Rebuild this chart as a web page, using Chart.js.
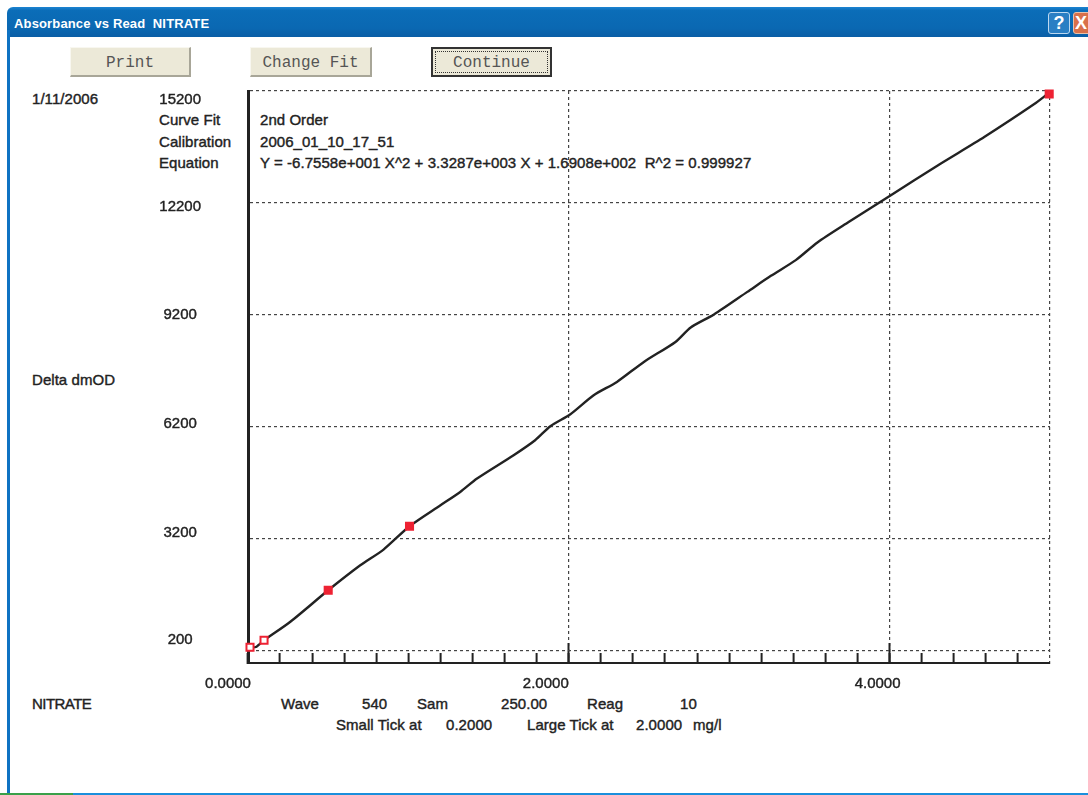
<!DOCTYPE html>
<html>
<head>
<meta charset="utf-8">
<title>Absorbance vs Read NITRATE</title>
<script src="https://cdn.jsdelivr.net/npm/chart.js@4"></script>
<style>
html,body{margin:0;padding:0;background:#fff;overflow:hidden}
#win{position:relative;width:1088px;height:795px;overflow:hidden;background:#fff}
#bar{position:absolute;left:7px;top:7px;width:1090px;height:30px;border-radius:6px 0 0 0;
 background:linear-gradient(#1b84d2 0,#0b6db8 12%,#0a68b2 70%,#0a5ea6 100%)}
#lb{position:absolute;left:7px;top:30px;width:3px;height:765px;background:#0e72c2}
#bb{position:absolute;left:7px;top:793px;width:1081px;height:2px;background:#1b8fdc}
#gb{position:absolute;left:0;top:793px;width:73px;height:2px;background:#3aa04a}
#ttl{position:absolute;left:14px;top:16px;color:#fff;font:bold 13px "Liberation Sans";white-space:pre;letter-spacing:.15px}
#help{position:absolute;left:1048px;top:12px;width:20px;height:20px;border:1px solid #bcd8f0;border-radius:3px;background:#2a7fc4;color:#fff;font:bold 18px/20px "Liberation Sans";text-align:center}
#close{position:absolute;left:1073px;top:12px;width:24px;height:20px;border:1px solid #e8c0a8;border-radius:3px;background:#d8704a;color:#fff;font:bold 18px/20px "Liberation Sans";text-indent:1px}
.btn{position:absolute;top:47px;height:30px;background:#ece9d8;box-sizing:border-box;border-right:2px solid #a8a698;border-bottom:2px solid #a8a698;border-top:1px solid #f8f7f0;border-left:1px solid #f8f7f0;
 font:16px/31px "Liberation Mono";color:#555;text-align:center}
.btn.def{border:2px solid #333}
.btn.def span{position:absolute;left:2px;top:2px;right:2px;bottom:2px;border:1px dotted #333;line-height:23px}
.t{position:absolute;font:15px/18px "Liberation Sans";color:#222;white-space:pre;-webkit-text-stroke:.4px #222;letter-spacing:.05px;transform:translateY(-9px)}
canvas{position:absolute;left:0;top:0}
</style>
</head>
<body>
<div id="win">
 <div id="bar"></div><div id="lb"></div><div id="bb"></div><div id="gb"></div>
 <div id="ttl">Absorbance vs Read  NITRATE</div>
 <div id="help">?</div><div id="close">X</div>
 <div class="btn" style="left:70px;width:121px">Print</div>
 <div class="btn" style="left:250px;width:122px">Change Fit</div>
 <div class="btn def" style="left:431px;width:121px"><span>Continue</span></div>
 <div id="texts"></div>
 <canvas id="c" width="1088" height="795"></canvas>
</div>
<script>
// Calibration curve
const curveX = [0.0125,0.05,0.10,0.262,0.50,0.70,0.845,1.007,1.20,1.323,1.428,1.656,1.79,1.885,2.01,2.155,2.30,2.468,2.665,2.76,2.905,3.113,3.26,3.415,3.55,3.747,4.008,4.30,4.59,4.902,4.985];
const curveY = [280,289,468,959,1810,2480,2902,3527,4090,4447,4807,5432,5834,6210,6532,7041,7398,7935,8471,8858,9207,9813,10243,10664,11138,11691,12407,13205,13965,14849,15118];
// Calibrator points
const pointX = [0.0125,0.10,0.50,1.007,4.995];
const pointY = [280,468,1810,3527,15118];
// Axes
const yTicks = [200,3200,6200,9200,12200,15200];
const xSmallTicks = [0.2,0.4,0.6,0.8,1.0,1.2,1.4,1.6,1.8,2.2,2.4,2.6,2.8,3.0,3.2,3.4,3.6,3.8,4.2,4.4,4.6,4.8];
const xLargeTicks = [0,2,4];
const xGridOnly = [5];
// Text around the plot
const noteLabels = ["1/11/2006","Curve Fit","Calibration","Equation","2nd Order","2006_01_10_17_51",
 "Y = -6.7558e+001 X^2 + 3.3287e+003 X + 1.6908e+002  R^2 = 0.999927","Delta dmOD","NITRATE","Wave","540","Sam","250.00","Reag","10",
 "Small Tick at","0.2000","Large Tick at","2.0000","mg/l"];
const noteAt = [[32,99],[159,120],[159,142],[159,163],[260,120],[260,142],[260,163],[32,380],[32,704],[281,704],[362,704],[417,704],[501,704],[587,704],[680,704],[336,725],[446,725],[527,725],[636,725],[693,725]];

const box = document.getElementById('texts');
noteLabels.forEach((s,i)=>{const d=document.createElement('div');d.className='t';d.textContent=s;d.style.left=noteAt[i][0]+'px';d.style.top=noteAt[i][1]+'px';if(s==='NITRATE')d.style.letterSpacing='-.55px';box.appendChild(d);});

const INK='#222', GRID='#444', RED='#ee2233';
// The original program prints its tick labels slightly away from the grid positions
const yLabelShift = {200:-10,3200:-6,6200:-3,9200:0,12200:4,15200:9};
const xLabelShift = {0:-20,2:-23,4:-12};
const labelShift = {
 id:'labelShift',
 beforeDraw(chart){
  const xs=chart.scales.x, ys=chart.scales.y;
  xs.getLabelItems(chart.chartArea).forEach((it,i)=>{
    const v=xs.ticks[i].value; if(xLabelShift[v]!==undefined && !it._s){it.options.translation[0]+=xLabelShift[v];it._s=1;}
  });
  ys.getLabelItems(chart.chartArea).forEach((it,i)=>{
    const v=ys.ticks[i].value; if(yLabelShift[v]!==undefined && !it._s){it.options.translation[1]+=yLabelShift[v];it._s=1;}
  });
 }
};
const labelFont={family:'"Liberation Sans"',size:15};
new Chart(document.getElementById('c'),{
 type:'scatter',
 plugins:[labelShift],
 data:{datasets:[
  {label:'Calibrators',data:pointX.map((x,i)=>({x,y:pointY[i]})),showLine:false,clip:false,pointStyle:'rect',pointRadius:5,
   pointBorderWidth:2,pointBorderColor:RED,pointBackgroundColor:pointX.map((_,i)=>i<2?'#fff':RED)},
  {label:'Curve',data:curveX.map((x,i)=>({x,y:curveY[i]})),showLine:true,pointRadius:0,borderColor:INK,borderWidth:2.4,tension:0.25,clip:false}
 ]},
 options:{
  responsive:false,animation:false,devicePixelRatio:1,
  layout:{padding:{left:0,top:91,right:38,bottom:0}},
  plugins:{legend:{display:false},tooltip:{enabled:false},title:{display:false}},
  scales:{
   x:{type:'linear',position:'bottom',min:0,max:5,weight:1,
    afterFit(s){s.height=132;},
    afterBuildTicks(s){s.ticks=[...xLargeTicks,...xSmallTicks,...xGridOnly].sort((a,b)=>a-b).map(value=>({value}));},
    border:{display:true,color:INK,width:2,dash:[3,3]},
    grid:{tickLength:-10,tickWidth:2,tickBorderDash:[],lineWidth:1.2,
      color:c=>(c.tick&&(c.tick.value===2||c.tick.value===4||c.tick.value===5))?GRID:'rgba(0,0,0,0)',
      tickColor:c=>(c.tick&&c.tick.value!==5)?INK:'rgba(0,0,0,0)'},
    ticks:{autoSkip:false,maxRotation:0,padding:22,color:INK,font:labelFont,textStrokeWidth:.4,textStrokeColor:INK,
      callback:v=>xLargeTicks.includes(v)?v.toFixed(4):''}
   },
   x2:{type:'linear',position:'bottom',min:0,max:5,weight:-1,
    afterFit(s){s.height=0;},
    afterBuildTicks(s){s.ticks=xLargeTicks.map(value=>({value}));},
    border:{display:false},
    grid:{drawOnChartArea:false,tickLength:-20,tickWidth:2,tickColor:INK},
    ticks:{display:false}
   },
   y:{type:'linear',position:'left',min:-140,max:15200,
    afterFit(s){s.width=248;},
    afterBuildTicks(s){s.ticks=yTicks.map(value=>({value}));},
    border:{display:true,color:INK,width:3,dash:[3,3]},
    grid:{color:GRID,drawTicks:false,lineWidth:1.2},
    ticks:{autoSkip:false,crossAlign:'center',padding:47,color:INK,font:labelFont,textStrokeWidth:.4,textStrokeColor:INK,callback:v=>String(v)}
   }
  }
 }
});
</script>
</body>
</html>
